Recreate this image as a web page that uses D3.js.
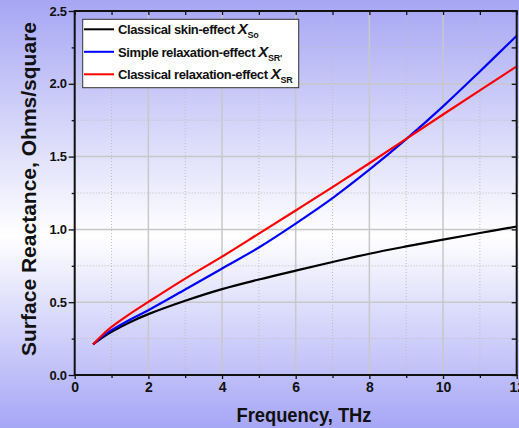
<!DOCTYPE html>
<html>
<head>
<meta charset="utf-8">
<script src="https://cdn.jsdelivr.net/npm/d3@7"></script>
<style>
  html, body { margin: 0; padding: 0; }
  body { width: 519px; height: 428px; overflow: hidden; }
  text { font-family: "Liberation Sans", Arial, sans-serif; font-weight: bold; fill: #111; }
</style>
</head>
<body>
<script>
// values
const freq   = [0.5, 0.75, 1, 1.5, 2, 3, 4, 5, 6, 7, 8, 9, 10, 11, 12]
const skinSo = [0.21, 0.257, 0.297, 0.363, 0.418, 0.51, 0.59, 0.656, 0.717, 0.776, 0.833, 0.883, 0.93, 0.975, 1.02]
const relaxSRp = [0.21, 0.265, 0.308, 0.38, 0.445, 0.587, 0.731, 0.876, 1.04, 1.215, 1.41, 1.62, 1.845, 2.085, 2.33]
const relaxSR  = [0.21, 0.275, 0.33, 0.42, 0.502, 0.662, 0.813, 0.971, 1.13, 1.29, 1.454, 1.622, 1.789, 1.955, 2.12]

const xMajor = [0, 2, 4, 6, 8, 10, 12]
const xMinor = [1, 3, 5, 7, 9, 11]
const yMajor = [0, 0.5, 1.0, 1.5, 2.0, 2.5]
const yMinor = [0.25, 0.75, 1.25, 1.75, 2.25]

const series = [
  { name: "Classical skin-effect ", sub: "So", color: "#000000", vals: skinSo },
  { name: "Simple relaxation-effect ", sub: "SR'", color: "#0000ff", vals: relaxSRp },
  { name: "Classical relaxation-effect ", sub: "SR", color: "#ff0000", vals: relaxSR }
]

const W = 519, H = 428
const pLeft = 74.7, pRight = 516.7, pTop = 11, pBottom = 375

const svg = d3.select("body").append("svg")
  .attr("width", W)
  .attr("height", H)

const defs = svg.append("defs")
const grad = defs.append("linearGradient")
  .attr("id", "bg")
  .attr("x1", 0).attr("y1", 0).attr("x2", 0).attr("y2", 1)
grad.append("stop").attr("offset", "0%").attr("stop-color", "#a6a6f4")
grad.append("stop").attr("offset", "55%").attr("stop-color", "#ffffff")
grad.append("stop").attr("offset", "100%").attr("stop-color", "#a6a6f6")

svg.append("rect")
  .attr("width", W).attr("height", H)
  .attr("fill", "url(#bg)")

const x = d3.scaleLinear().domain([0, 12]).range([pLeft, pRight])
const y = d3.scaleLinear().domain([0, 2.5]).range([pBottom, pTop])

// grid
const grid = svg.append("g")
grid.selectAll(".vmin").data(xMinor).enter().append("line")
  .attr("x1", d => x(d)).attr("x2", d => x(d))
  .attr("y1", pTop).attr("y2", pBottom)
  .attr("stroke", "#bdbdbd").attr("stroke-width", 1).attr("stroke-dasharray", "1,2")
grid.selectAll(".hmin").data(yMinor).enter().append("line")
  .attr("x1", pLeft).attr("x2", pRight)
  .attr("y1", d => y(d)).attr("y2", d => y(d))
  .attr("stroke", "#bdbdbd").attr("stroke-width", 1).attr("stroke-dasharray", "1,2")
grid.selectAll(".vmaj").data(xMajor.slice(1, -1)).enter().append("line")
  .attr("x1", d => x(d)).attr("x2", d => x(d))
  .attr("y1", pTop).attr("y2", pBottom)
  .attr("stroke", "#c8c8c8").attr("stroke-width", 1.5)
grid.selectAll(".hmaj").data(yMajor.slice(1, -1)).enter().append("line")
  .attr("x1", pLeft).attr("x2", pRight)
  .attr("y1", d => y(d)).attr("y2", d => y(d))
  .attr("stroke", "#c8c8c8").attr("stroke-width", 1.5)

// curves
const line = d3.line()
  .x((d, i) => x(freq[i]))
  .y(d => y(d))
  .curve(d3.curveCatmullRom.alpha(0.5))

series.forEach(s => {
  svg.append("path")
    .attr("d", line(s.vals))
    .attr("fill", "none")
    .attr("stroke", s.color)
    .attr("stroke-width", 2.2)
})

// axes
function styleAxis(g) {
  g.select(".domain").remove()
  g.selectAll(".tick line").attr("stroke", "#111").attr("stroke-width", 1.3)
}

svg.append("g")
  .attr("transform", "translate(0," + pBottom + ")")
  .call(d3.axisBottom(x).tickValues(xMajor).tickSize(4).tickPadding(3).tickFormat(d3.format("d")))
  .call(styleAxis)
  .call(g => g.selectAll("text").style("font-size", "14px").style("font-family", "Liberation Sans, Arial").style("font-weight", "bold").attr("fill", "#111"))
svg.append("g")
  .attr("transform", "translate(0," + pBottom + ")")
  .call(d3.axisBottom(x).tickValues(xMinor).tickSize(3).tickFormat(""))
  .call(styleAxis)

svg.append("g")
  .attr("transform", "translate(" + pLeft + ",0)")
  .call(d3.axisLeft(y).tickValues(yMajor).tickSize(6).tickPadding(2).tickFormat(d3.format(".1f")))
  .call(styleAxis)
  .call(g => g.selectAll("text").style("font-size", "13px").style("font-family", "Liberation Sans, Arial").style("font-weight", "bold").attr("fill", "#111").attr("letter-spacing", "-0.3"))
svg.append("g")
  .attr("transform", "translate(" + pLeft + ",0)")
  .call(d3.axisLeft(y).tickValues(yMinor).tickSize(3).tickFormat(""))
  .call(styleAxis)

svg.append("g")
  .attr("transform", "translate(0," + pTop + ")")
  .call(d3.axisBottom(x).tickValues(xMajor.concat(xMinor)).tickSize(4).tickFormat(""))
  .call(styleAxis)
svg.append("g")
  .attr("transform", "translate(" + pRight + ",0)")
  .call(d3.axisLeft(y).tickValues(yMajor.concat(yMinor)).tickSize(5).tickFormat(""))
  .call(styleAxis)

// frame
svg.append("rect")
  .attr("x", pLeft).attr("y", pTop)
  .attr("width", pRight - pLeft).attr("height", pBottom - pTop)
  .attr("fill", "none").attr("stroke", "#111").attr("stroke-width", 2)

// legend
const leg = svg.append("g")
leg.append("rect")
  .attr("x", 82.7).attr("y", 19.3)
  .attr("width", 216).attr("height", 68.4)
  .attr("fill", "#ffffff").attr("stroke", "#333").attr("stroke-width", 1)

series.forEach((s, i) => {
  const ly = 29.3 + i * 22.5
  leg.append("line")
    .attr("x1", 84).attr("x2", 114)
    .attr("y1", ly).attr("y2", ly)
    .attr("stroke", s.color).attr("stroke-width", 2)
  const t = leg.append("text")
    .attr("x", 118).attr("y", ly + 5)
    .style("font-size", "13px")
    .attr("letter-spacing", "-0.4")
  t.append("tspan").text(s.name)
  t.append("tspan").text("X").style("font-style", "italic").style("font-size", "15px")
  t.append("tspan").text(s.sub).attr("dy", 4).style("font-size", "9px").attr("letter-spacing", "-0.2")
})

// axis titles
svg.append("text")
  .attr("x", 304).attr("y", 421.5)
  .attr("text-anchor", "middle")
  .attr("textLength", 135)
  .attr("lengthAdjust", "spacingAndGlyphs")
  .style("font-size", "20px")
  .text("Frequency, THz")

svg.append("text")
  .attr("transform", "translate(36,189) rotate(-90)")
  .attr("text-anchor", "middle")
  .attr("textLength", 334)
  .attr("lengthAdjust", "spacingAndGlyphs")
  .style("font-size", "21px")
  .text("Surface Reactance, Ohms/square")
</script>
</body>
</html>
